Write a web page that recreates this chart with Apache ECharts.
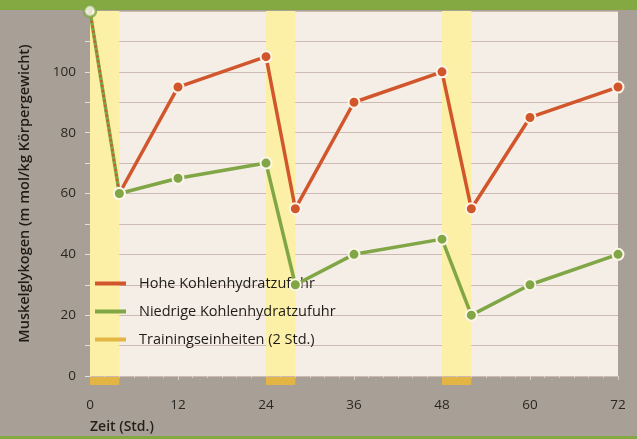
<!DOCTYPE html>
<html><head><meta charset="utf-8">
<script src="https://cdn.jsdelivr.net/npm/echarts@6/dist/echarts.min.js"></script>
<style>html,body{margin:0;padding:0;background:#a8a096;}#c{width:637px;height:439px;}</style>
</head><body><div id="c"></div>
<script>
const hours = [0, 4, 12, 24, 28, 36, 48, 52, 60, 72];
const highCarb = [120, 60, 95, 105, 55, 90, 100, 55, 85, 95];
const lowCarb = [120, 60, 65, 70, 30, 40, 45, 20, 30, 40];
const trainingBands = [[0, 4], [24, 28], [48, 52]];
const xTicks = [0, 12, 24, 36, 48, 60, 72];
const yTicks = [0, 20, 40, 60, 80, 100];
const names = ['Hohe Kohlenhydratzufuhr', 'Niedrige Kohlenhydratzufuhr', 'Trainingseinheiten (2 Std.)'];

const RED = '#d2562c', GREEN = '#80a646', YEL = '#e3b545';
const font = 'Open Sans';
const pts = (vals) => hours.map((h, i) => [h, vals[i]]);
const highPts = pts(highCarb).slice(1);
const lowPts = pts(lowCarb).slice(1);

const chart = echarts.init(document.getElementById('c'), null, {renderer: 'canvas'});
chart.setOption({
  backgroundColor: '#a8a096',
  animation: false,
  textStyle: {fontFamily: font},
  graphic: [
    {type: 'rect', shape: {x: 0, y: 0, width: 637, height: 10}, style: {fill: '#84a943'}, z: 0},
    {type: 'rect', shape: {x: 0, y: 436, width: 637, height: 3}, style: {fill: '#84a943'}, z: 0},
    {type: 'text', left: 90, top: 420, style: {text: 'Zeit (Std.)', font: '600 14px "Open Sans"', fill: '#221e1a'}}
  ],
  grid: {left: 90, right: 19, top: 11, bottom: 63, backgroundColor: '#f4eee7', show: true, borderWidth: 0},
  legend: {
    left: 90, top: 271, orient: 'vertical', itemGap: 13, itemWidth: 31, itemHeight: 4,
    textStyle: {fontSize: 14.5, color: '#1f1b17', fontFamily: font, padding: [0, 0, 0, 8]},
    data: [
      {name: names[0], icon: 'rect', itemStyle: {color: RED, borderWidth: 0}, lineStyle: {color: RED, width: 4}},
      {name: names[1], icon: 'rect', itemStyle: {color: GREEN, borderWidth: 0}, lineStyle: {color: GREEN, width: 4}},
      {name: names[2], icon: 'rect', itemStyle: {color: YEL}}
    ]
  },
  xAxis: {
    type: 'value', min: 0, max: 72, interval: 12,
    axisLine: {show: false},
    axisTick: {show: true, length: 4, lineStyle: {color: '#d8d2ca'}},
    minorTick: {show: true, splitNumber: 6, length: 2, lineStyle: {color: '#d8d2ca'}},
    splitLine: {show: false},
    axisLabel: {color: '#2a2621', fontSize: 13.5, margin: 22,
      formatter: v => xTicks.includes(v) ? String(v) : ''}
  },
  yAxis: {
    type: 'value', min: 0, max: 120, interval: 10,
    name: 'Muskelglykogen (m mol/kg Körpergewicht)', nameLocation: 'middle', nameGap: 58,
    nameTextStyle: {fontSize: 14.5, fontWeight: 600, color: '#1f1b17', fontFamily: font},
    axisLine: {show: false},
    axisTick: {show: true, length: 5, lineStyle: {color: '#e6e0d8'}},
    splitLine: {show: true, lineStyle: {color: '#cdbab2', width: 1}},
    axisLabel: {color: '#2a2621', fontSize: 13.5, margin: 14,
      formatter: v => yTicks.includes(v) ? String(v) : ''}
  },
  series: [
    {
      name: names[2], type: 'custom', z: 1, clip: false, silent: true,
      data: trainingBands,
      renderItem: (params, api) => {
        const a = api.coord([api.value(0), 120]);
        const b = api.coord([api.value(1), 0]);
        return {type: 'group', children: [
          {type: 'rect', shape: {x: a[0], y: a[1], width: b[0] - a[0], height: b[1] - a[1]}, style: {fill: '#fbf0a6'}},
          {type: 'rect', shape: {x: a[0], y: b[1] + 1, width: b[0] - a[0], height: 8}, style: {fill: YEL}}
        ]};
      },
      itemStyle: {color: YEL}
    },
    {
      name: 'start-green', type: 'line', z: 3, data: [pts(lowCarb)[0], pts(lowCarb)[1]],
      symbol: 'none', lineStyle: {color: GREEN, width: 3.5}
    },
    {
      name: 'start-red', type: 'line', z: 4, data: [pts(highCarb)[0], pts(highCarb)[1]],
      symbol: 'none', lineStyle: {color: RED, width: 2.5, type: [2, 3]}
    },
    {
      name: names[0], type: 'line', z: 5, data: highPts,
      symbol: 'circle', symbolSize: 11,
      lineStyle: {color: RED, width: 3.5},
      itemStyle: {color: RED, borderColor: '#fbf6e8', borderWidth: 2}
    },
    {
      name: names[1], type: 'line', z: 5, data: lowPts,
      symbol: 'circle', symbolSize: 11,
      lineStyle: {color: GREEN, width: 3.5},
      itemStyle: {color: GREEN, borderColor: '#fbf6e8', borderWidth: 2}
    },
    {
      name: 'start-point', type: 'scatter', z: 6, clip: false,
      data: [pts(lowCarb)[0]],
      symbol: 'circle', symbolSize: 12,
      itemStyle: {color: '#fbf8ef', borderColor: GREEN, borderWidth: 2.5}
    }
  ]
});
</script></body></html>
